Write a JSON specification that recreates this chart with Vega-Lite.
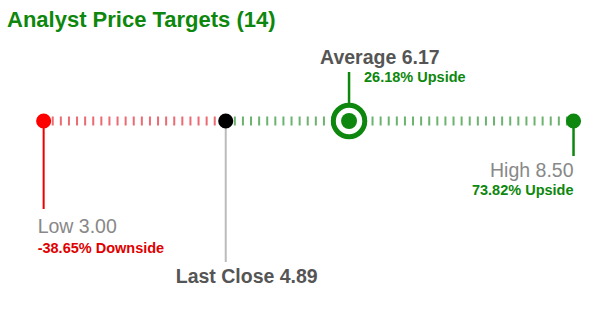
{
  "$schema": "https://vega.github.io/schema/vega-lite/v6.json",
  "width": 590,
  "height": 277,
  "autosize": {"type": "none"},
  "padding": {"left": 0, "right": 0, "top": 40, "bottom": 0},
  "background": "white",
  "title": {"text": "Analyst Price Targets (14)", "anchor": "start", "fontSize": 22, "font": "Liberation Sans", "fontWeight": "bold", "color": "#0d870d", "dx": 7, "dy": 22, "offset": 13, "baseline": "alphabetic"},
  "config": {"view": {"stroke": null}},
  "resolve": {"scale": {"color": "independent"}},
  "datasets": {
    "targets": [
      {"kind": "Low", "label": "Low 3.00", "price": 3.00, "change": "-38.65% Downside"},
      {"kind": "Last Close", "label": "Last Close 4.89", "price": 4.89, "change": ""},
      {"kind": "Average", "label": "Average 6.17", "price": 6.17, "change": "26.18% Upside"},
      {"kind": "High", "label": "High 8.50", "price": 8.50, "change": "73.82% Upside"}
    ],
    "segments": [
      {"from": 3.00, "to": 4.89, "side": "down"},
      {"from": 4.89, "to": 8.50, "side": "up"}
    ]
  },
  "layer": [
    {
      "data": {"name": "segments"},
      "mark": {"type": "rule", "strokeWidth": 9, "strokeDash": [2, 6.1]},
      "encoding": {
        "x": {"field": "from", "type": "quantitative", "scale": {"domain": [2.547, 8.671], "nice": false, "zero": false}, "axis": null},
        "x2": {"field": "to"},
        "y": {"datum": 0, "type": "quantitative", "scale": {"domain": [-196, 81], "nice": false, "zero": false}, "axis": null},
        "color": {"field": "side", "type": "nominal", "scale": {"domain": ["down", "up"], "range": ["#ec6a72", "#6db36f"]}, "legend": null}
      }
    },
    {
      "data": {"name": "targets"},
      "transform": [{"filter": "datum.kind === 'Low'"}],
      "mark": {"type": "rule", "strokeWidth": 2, "color": "#ee0000"},
      "encoding": {
        "x": {"field": "price", "type": "quantitative", "scale": {"domain": [2.547, 8.671], "nice": false, "zero": false}, "axis": null},
        "y": {"datum": 0, "type": "quantitative", "scale": {"domain": [-196, 81], "nice": false, "zero": false}, "axis": null},
        "y2": {"datum": -88}
      }
    },
    {
      "data": {"name": "targets"},
      "transform": [{"filter": "datum.kind === 'Last Close'"}],
      "mark": {"type": "rule", "strokeWidth": 2, "color": "#bbbbbb"},
      "encoding": {
        "x": {"field": "price", "type": "quantitative", "scale": {"domain": [2.547, 8.671], "nice": false, "zero": false}, "axis": null},
        "y": {"datum": 0, "type": "quantitative", "scale": {"domain": [-196, 81], "nice": false, "zero": false}, "axis": null},
        "y2": {"datum": -141}
      }
    },
    {
      "data": {"name": "targets"},
      "transform": [{"filter": "datum.kind === 'High'"}],
      "mark": {"type": "rule", "strokeWidth": 2.5, "color": "#0d870d"},
      "encoding": {
        "x": {"field": "price", "type": "quantitative", "scale": {"domain": [2.547, 8.671], "nice": false, "zero": false}, "axis": null},
        "y": {"datum": 0, "type": "quantitative", "scale": {"domain": [-196, 81], "nice": false, "zero": false}, "axis": null},
        "y2": {"datum": -35}
      }
    },
    {
      "data": {"name": "targets"},
      "transform": [{"filter": "datum.kind === 'Average'"}],
      "mark": {"type": "rule", "strokeWidth": 2.5, "color": "#0d870d"},
      "encoding": {
        "x": {"field": "price", "type": "quantitative", "scale": {"domain": [2.547, 8.671], "nice": false, "zero": false}, "axis": null},
        "y": {"datum": 0, "type": "quantitative", "scale": {"domain": [-196, 81], "nice": false, "zero": false}, "axis": null},
        "y2": {"datum": 49}
      }
    },
    {
      "data": {"name": "targets"},
      "transform": [{"filter": "datum.kind !== 'Average'"}],
      "mark": {"type": "circle", "size": 227, "opacity": 1},
      "encoding": {
        "x": {"field": "price", "type": "quantitative", "scale": {"domain": [2.547, 8.671], "nice": false, "zero": false}, "axis": null},
        "y": {"datum": 0, "type": "quantitative", "scale": {"domain": [-196, 81], "nice": false, "zero": false}, "axis": null},
        "color": {"field": "kind", "type": "nominal", "scale": {"domain": ["Low", "Last Close", "High"], "range": ["#ff0000", "#000000", "#0d870d"]}, "legend": null}
      }
    },
    {
      "data": {"name": "targets"},
      "transform": [{"filter": "datum.kind === 'Average'"}],
      "mark": {"type": "point", "shape": "circle", "filled": true, "fill": "white", "stroke": "#0d870d", "strokeWidth": 5, "size": 990, "opacity": 1, "strokeOpacity": 1, "fillOpacity": 1},
      "encoding": {
        "x": {"field": "price", "type": "quantitative", "scale": {"domain": [2.547, 8.671], "nice": false, "zero": false}, "axis": null},
        "y": {"datum": 0, "type": "quantitative", "scale": {"domain": [-196, 81], "nice": false, "zero": false}, "axis": null}
      }
    },
    {
      "data": {"name": "targets"},
      "transform": [{"filter": "datum.kind === 'Average'"}],
      "mark": {"type": "circle", "size": 255, "opacity": 1, "color": "#0d870d"},
      "encoding": {
        "x": {"field": "price", "type": "quantitative", "scale": {"domain": [2.547, 8.671], "nice": false, "zero": false}, "axis": null},
        "y": {"datum": 0, "type": "quantitative", "scale": {"domain": [-196, 81], "nice": false, "zero": false}, "axis": null}
      }
    },
    {
      "data": {"name": "targets"},
      "transform": [{"filter": "datum.kind === 'Average'"}],
      "mark": {"type": "text", "align": "left", "baseline": "alphabetic", "dx": -29, "font": "Liberation Sans", "fontWeight": "bold", "fontSize": 19.5, "color": "#555555"},
      "encoding": {
        "x": {"field": "price", "type": "quantitative", "scale": {"domain": [2.547, 8.671], "nice": false, "zero": false}, "axis": null},
        "y": {"datum": 57, "type": "quantitative", "scale": {"domain": [-196, 81], "nice": false, "zero": false}, "axis": null},
        "text": {"field": "label"}
      }
    },
    {
      "data": {"name": "targets"},
      "transform": [{"filter": "datum.kind === 'Average'"}],
      "mark": {"type": "text", "align": "left", "baseline": "alphabetic", "dx": 15, "font": "Liberation Sans", "fontWeight": "bold", "fontSize": 14.5, "color": "#0d870d"},
      "encoding": {
        "x": {"field": "price", "type": "quantitative", "scale": {"domain": [2.547, 8.671], "nice": false, "zero": false}, "axis": null},
        "y": {"datum": 39, "type": "quantitative", "scale": {"domain": [-196, 81], "nice": false, "zero": false}, "axis": null},
        "text": {"field": "change"}
      }
    },
    {
      "data": {"name": "targets"},
      "transform": [{"filter": "datum.kind === 'High'"}],
      "mark": {"type": "text", "align": "right", "baseline": "alphabetic", "dx": 0, "font": "Liberation Sans", "fontSize": 19.5, "color": "#888888"},
      "encoding": {
        "x": {"field": "price", "type": "quantitative", "scale": {"domain": [2.547, 8.671], "nice": false, "zero": false}, "axis": null},
        "y": {"datum": -56, "type": "quantitative", "scale": {"domain": [-196, 81], "nice": false, "zero": false}, "axis": null},
        "text": {"field": "label"}
      }
    },
    {
      "data": {"name": "targets"},
      "transform": [{"filter": "datum.kind === 'High'"}],
      "mark": {"type": "text", "align": "right", "baseline": "alphabetic", "dx": 0, "font": "Liberation Sans", "fontWeight": "bold", "fontSize": 14.5, "color": "#0d870d"},
      "encoding": {
        "x": {"field": "price", "type": "quantitative", "scale": {"domain": [2.547, 8.671], "nice": false, "zero": false}, "axis": null},
        "y": {"datum": -74, "type": "quantitative", "scale": {"domain": [-196, 81], "nice": false, "zero": false}, "axis": null},
        "text": {"field": "change"}
      }
    },
    {
      "data": {"name": "targets"},
      "transform": [{"filter": "datum.kind === 'Low'"}],
      "mark": {"type": "text", "align": "left", "baseline": "alphabetic", "dx": -6, "font": "Liberation Sans", "fontSize": 19.5, "color": "#888888"},
      "encoding": {
        "x": {"field": "price", "type": "quantitative", "scale": {"domain": [2.547, 8.671], "nice": false, "zero": false}, "axis": null},
        "y": {"datum": -112, "type": "quantitative", "scale": {"domain": [-196, 81], "nice": false, "zero": false}, "axis": null},
        "text": {"field": "label"}
      }
    },
    {
      "data": {"name": "targets"},
      "transform": [{"filter": "datum.kind === 'Low'"}],
      "mark": {"type": "text", "align": "left", "baseline": "alphabetic", "dx": -6, "font": "Liberation Sans", "fontWeight": "bold", "fontSize": 14.5, "color": "#e00000"},
      "encoding": {
        "x": {"field": "price", "type": "quantitative", "scale": {"domain": [2.547, 8.671], "nice": false, "zero": false}, "axis": null},
        "y": {"datum": -132, "type": "quantitative", "scale": {"domain": [-196, 81], "nice": false, "zero": false}, "axis": null},
        "text": {"field": "change"}
      }
    },
    {
      "data": {"name": "targets"},
      "transform": [{"filter": "datum.kind === 'Last Close'"}],
      "mark": {"type": "text", "align": "left", "baseline": "alphabetic", "dx": -50, "font": "Liberation Sans", "fontWeight": "bold", "fontSize": 19.5, "color": "#555555"},
      "encoding": {
        "x": {"field": "price", "type": "quantitative", "scale": {"domain": [2.547, 8.671], "nice": false, "zero": false}, "axis": null},
        "y": {"datum": -162, "type": "quantitative", "scale": {"domain": [-196, 81], "nice": false, "zero": false}, "axis": null},
        "text": {"field": "label"}
      }
    }
  ]
}
